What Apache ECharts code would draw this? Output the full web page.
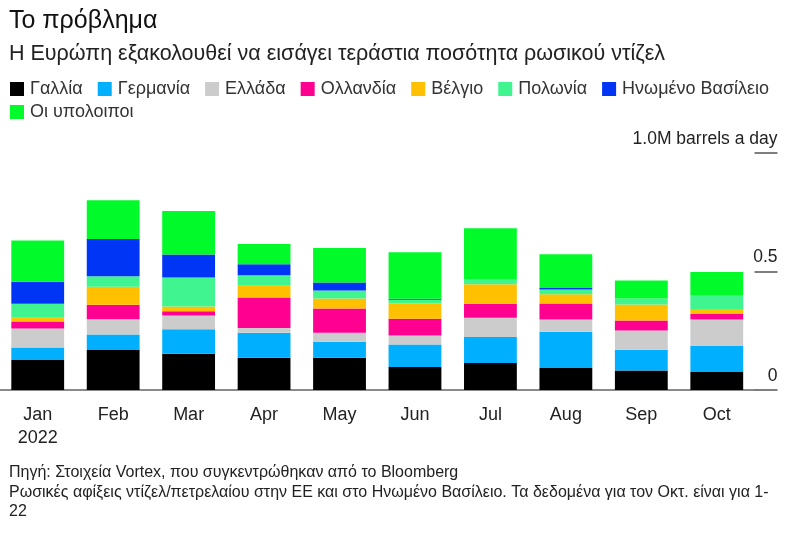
<!DOCTYPE html>
<html>
<head>
<meta charset="utf-8">
<script src="https://cdn.jsdelivr.net/npm/echarts@6/dist/echarts.min.js"></script>
<style>html,body{margin:0;padding:0;background:#fff}#c{width:800px;height:543px}</style>
</head>
<body>
<div id="c"></div>
<script>
var months = ['Jan','Feb','Mar','Apr','May','Jun','Jul','Aug','Sep','Oct'];
var seriesNames = ['Γαλλία','Γερμανία','Ελλάδα','Ολλανδία','Βέλγιο','Πολωνία','Ηνωμένο Βασίλειο','Οι υπολοιποι'];
var colors = ['#000000','#00b0ff','#cccccc','#ff0090','#ffc000','#40f590','#0035f5','#00fa2a'];
var france      = [0.127,0.169,0.153,0.136,0.136,0.097,0.114,0.093,0.082,0.076];
var germany     = [0.052,0.065,0.103,0.106,0.068,0.095,0.110,0.153,0.088,0.110];
var greece      = [0.080,0.065,0.058,0.020,0.038,0.038,0.081,0.051,0.081,0.111];
var netherlands = [0.030,0.061,0.018,0.128,0.102,0.071,0.059,0.068,0.042,0.024];
var belgium     = [0.016,0.076,0.020,0.050,0.042,0.064,0.082,0.039,0.068,0.021];
var poland      = [0.059,0.044,0.123,0.044,0.034,0.016,0.020,0.020,0.025,0.059];
var uk          = [0.093,0.157,0.097,0.047,0.034,0.004,0.000,0.006,0.000,0.000];
var others      = [0.174,0.164,0.183,0.085,0.145,0.196,0.216,0.143,0.076,0.097];
var yTicks = [0, 0.5, 1.0];
var yTickLabels = ['0','0.5','1.0M barrels a day'];
var titleText = 'Το πρόβλημα';
var subtitleText = 'Η Ευρώπη εξακολουθεί να εισάγει τεράστια ποσότητα ρωσικού ντίζελ';
var noteLines = ['Πηγή: Στοιχεία Vortex, που συγκεντρώθηκαν από το Bloomberg',
  'Ρωσικές αφίξεις ντίζελ/πετρελαίου στην ΕΕ και στο Ηνωμένο Βασίλειο. Τα δεδομένα για τον Οκτ. είναι για 1-',
  '22'];

var allData = [france, germany, greece, netherlands, belgium, poland, uk, others];
var FONT = '"Liberation Sans", Arial, sans-serif';

var chart = echarts.init(document.getElementById('c'), null, {renderer: 'canvas'});
var series = allData.map(function (d, i) {
  return {
    name: seriesNames[i],
    type: 'bar',
    stack: 'total',
    data: d,
    barCategoryGap: '30%',
    itemStyle: {color: colors[i]},
    emphasis: {disabled: true}
  };
});

var legendCommon = {
  icon: 'rect', itemWidth: 14, itemHeight: 14, itemGap: 15,
  textStyle: {fontFamily: FONT, fontSize: 18, color: '#333', padding: [0,0,0,1]},
  selectedMode: false, orient: 'horizontal'
};

chart.setOption({
  animation: false,
  color: colors,
  textStyle: {fontFamily: FONT},
  title: [
    {text: titleText, left: 4, top: 4, textStyle: {fontFamily: FONT, fontSize: 25, fontWeight: 'normal', color: '#111'}},
    {text: subtitleText, left: 4, top: 38, textStyle: {fontFamily: FONT, fontSize: 21.5, fontWeight: 'normal', color: '#222'}},
    {text: noteLines.join('\n'), left: 4, top: 458, textStyle: {fontFamily: FONT, fontSize: 16, fontWeight: 'normal', color: '#222', lineHeight: 19.5}}
  ],
  legend: [
    Object.assign({data: seriesNames.slice(0, 7), left: 5, top: 75}, legendCommon),
    Object.assign({data: seriesNames.slice(7), left: 5, top: 98}, legendCommon)
  ],
  grid: {left: -5.5, right: 45.5, top: 153, bottom: 153, containLabel: false},
  xAxis: {
    type: 'category',
    data: months,
    axisLine: {lineStyle: {color: '#666', width: 1.5}},
    axisTick: {alignWithLabel: true, length: 6, lineStyle: {color: '#555', width: 1.5}},
    axisLabel: {
      margin: 14, fontFamily: FONT, fontSize: 18, color: '#222', lineHeight: 23,
      formatter: function (v, i) { return i === 0 ? v + '\n2022' : v; }
    }
  },
  yAxis: {
    type: 'value', position: 'right', min: 0, max: 1, interval: 0.5,
    splitLine: {show: false},
    axisLine: {show: false},
    axisTick: {show: true, inside: false, length: 23, lineStyle: {color: '#555', width: 1.5}},
    axisLabel: {
      margin: 23, align: 'right', verticalAlign: 'bottom', padding: [0,0,5,0],
      fontFamily: FONT, fontSize: 17.5, color: '#222',
      formatter: function (v) {
        var k = yTicks.indexOf(v);
        return k >= 0 ? yTickLabels[k] : '';
      }
    }
  },
  series: series
});
</script>
</body>
</html>
